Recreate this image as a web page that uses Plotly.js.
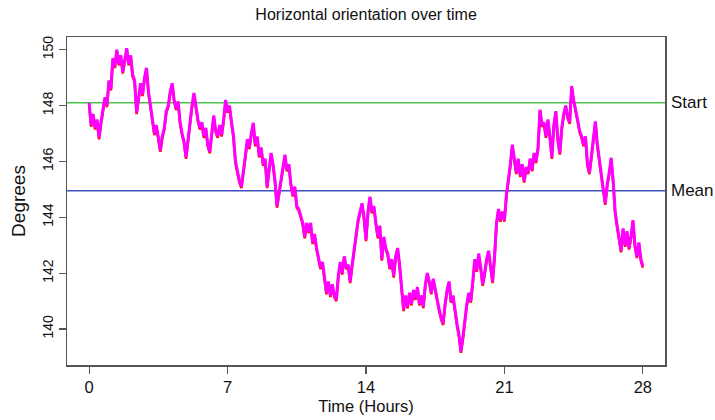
<!DOCTYPE html>
<html>
<head>
<meta charset="utf-8">
<script src="https://cdn.plot.ly/plotly-3.0.1.min.js"></script>
<style>html,body{margin:0;padding:0;background:#fff;}#chart{width:715px;height:420px;}</style>
</head>
<body>
<div id="chart"></div>
<script>
// Sampling interval of the orientation record (hours)
const sampleStepHours = 0.1;

// Horizontal orientation (degrees) at 0.1 h steps, 0 .. 28 h
const degrees = [
  148.1, 147.3, 147.7, 147.2, 147.5, 146.85, 147.4, 147.9, 148.3, 148.0,
  148.9, 148.6, 149.7, 149.4, 150.0, 149.5, 149.8, 149.2, 149.7, 150.05,
  149.5, 149.8, 149.1, 148.9, 147.75, 148.2, 148.8, 148.4, 149.0, 149.35,
  148.5, 148.0, 147.4, 147.0, 147.3, 146.8, 146.4, 146.9, 147.2, 147.8,
  148.0, 148.5, 148.8, 148.2, 147.9, 148.15, 147.4, 147.0, 146.7, 146.15,
  146.8, 147.3, 148.0, 148.45, 147.9, 147.5, 147.2, 147.4, 146.9, 147.2,
  146.6, 146.35, 147.0, 147.65, 147.1, 146.9, 147.3, 146.95, 147.5, 148.2,
  147.8, 148.0, 147.4, 146.9, 146.0, 145.6, 145.3, 145.1, 145.6, 146.2,
  146.8, 146.5, 147.0, 147.38, 146.6, 146.9, 146.2, 146.5, 145.9, 146.1,
  145.1, 145.7, 146.3, 145.9, 145.3, 144.4, 144.9, 145.4, 145.9, 146.24,
  145.7, 145.9, 145.2, 144.8, 145.1, 144.4, 144.3, 144.0, 143.8, 143.3,
  143.8, 143.5, 143.8, 143.1, 143.4, 142.9, 142.6, 142.2, 142.4, 141.9,
  141.3, 141.7, 141.2, 141.6, 141.2, 141.05, 141.9, 142.4, 142.0, 142.6,
  142.2, 142.3, 141.7, 142.3, 142.9, 143.3, 143.9, 144.2, 144.5, 144.0,
  143.2, 144.2, 144.74, 144.2, 144.4, 143.8, 143.3, 143.7, 142.5, 143.3,
  142.9, 142.7, 142.2, 142.5, 141.9, 142.6, 142.9, 142.3, 141.6, 140.7,
  141.2, 140.8, 141.3, 140.9, 141.4, 141.1, 141.5, 140.9, 141.2, 140.8,
  141.6, 142.0, 141.7, 141.3, 141.8, 141.4, 141.0, 140.7, 140.4, 140.2,
  140.9, 141.4, 141.7, 141.0, 141.2, 140.6, 140.2, 139.8, 139.2, 139.7,
  140.4, 140.9, 141.3, 141.0, 141.7, 142.5, 142.1, 142.7, 142.2, 141.6,
  142.0, 142.5, 142.8, 142.3, 141.7, 142.6, 143.8, 144.3, 143.9, 144.2,
  143.9, 144.8, 145.3, 145.9, 146.6, 146.0, 145.6, 146.1, 145.5, 145.9,
  145.3, 145.8, 145.6, 146.1, 145.7, 146.3, 146.0, 146.5, 147.85, 147.3,
  147.4, 146.9, 147.5, 146.9, 146.15, 147.3, 147.8, 146.8, 146.3, 147.2,
  147.7, 148.0, 147.6, 147.4, 148.7, 148.2, 147.9, 147.5, 147.1, 146.9,
  146.6, 146.9, 145.9, 145.6, 146.2, 146.8, 147.43, 146.6, 146.0, 145.4,
  145.0, 144.5, 145.2, 145.6, 146.13, 145.3, 144.2, 143.7, 143.2, 142.8,
  143.6, 143.0, 143.5, 142.9, 143.3, 143.9, 143.0, 142.6, 143.1, 142.5,
  142.25
];
const hours = degrees.map((_, i) => +(i * sampleStepHours).toFixed(2));

// Reference levels
const startLevel = 148.1;
const meanLevel = 144.95;
const refLabels = ["Start", "Mean"];

// Axis ticks
const xTicks = [0, 7, 14, 21, 28];
const yTicks = [140, 142, 144, 146, 148, 150];

const FONT = "Liberation Sans, Arial, Helvetica, sans-serif";

const traces = [
  { // red under-trace (shows at the lower tips)
    x: hours, y: degrees, type: "scatter", mode: "lines",
    line: {color: "#ff1010", width: 2.6},
    hoverinfo: "skip", showlegend: false
  },
  {
    x: hours, y: degrees, type: "scatter", mode: "lines",
    line: {color: "#ff00ff", width: 3},
    hoverinfo: "skip", showlegend: false
  }
];

const layout = {
  width: 715, height: 420,
  margin: {l: 67, r: 50, t: 37, b: 55},
  paper_bgcolor: "#ffffff", plot_bgcolor: "#ffffff",
  font: {family: FONT, color: "#111"},
  showlegend: false,
  title: {text: "Horizontal orientation over time", font: {size: 16, family: FONT, color: "#111"},
          x: 0.512, xanchor: "center", y: 0.965, yanchor: "middle"},
  xaxis: {
    range: [-1.12, 29.12], tickvals: xTicks, ticktext: xTicks.map(String),
    showgrid: false, zeroline: false, showline: true, mirror: true,
    linecolor: "#555", linewidth: 1.5, ticks: "outside", ticklen: 7, tickcolor: "#555", tickwidth: 1.2,
    tickfont: {size: 16.5, family: FONT, color: "#111"},
    title: {text: "Time (Hours)", font: {size: 16.5, family: FONT, color: "#111"}, standoff: 5}
  },
  yaxis: {
    range: [138.71, 150.455], tickvals: yTicks, ticktext: yTicks.map(String),
    showgrid: false, zeroline: false, showline: true, mirror: true,
    linecolor: "#555", linewidth: 1.5, ticks: "outside", ticklen: 7, tickcolor: "#555", tickwidth: 1.2,
    tickangle: -90, tickfont: {size: 14, family: FONT, color: "#111"},
    title: {text: "Degrees", font: {size: 19, family: FONT, color: "#111"}, standoff: 9}
  },
  shapes: [
    {type: "line", xref: "paper", x0: 0, x1: 1, yref: "y", y0: startLevel, y1: startLevel,
     line: {color: "#4cc24c", width: 1.5}, layer: "below"},
    {type: "line", xref: "paper", x0: 0, x1: 1, yref: "y", y0: meanLevel, y1: meanLevel,
     line: {color: "#3d4fbf", width: 1.5}, layer: "below"}
  ],
  annotations: [
    {xref: "paper", x: 1, xanchor: "left", xshift: 4, yref: "y", y: startLevel, yanchor: "middle",
     text: refLabels[0], showarrow: false, font: {size: 17, family: FONT, color: "#111"}},
    {xref: "paper", x: 1, xanchor: "left", xshift: 4, yref: "y", y: meanLevel, yanchor: "middle",
     text: refLabels[1], showarrow: false, font: {size: 17, family: FONT, color: "#111"}}
  ]
};

Plotly.newPlot("chart", traces, layout, {displayModeBar: false, staticPlot: true}).then(function (gd) {
  // nudge the red under-trace down slightly so it peeks out below the magenta trace
  const t = gd.querySelectorAll(".scatterlayer .trace");
  if (t.length) t[0].setAttribute("transform", "translate(0,1.6)");
});
</script>
</body>
</html>
